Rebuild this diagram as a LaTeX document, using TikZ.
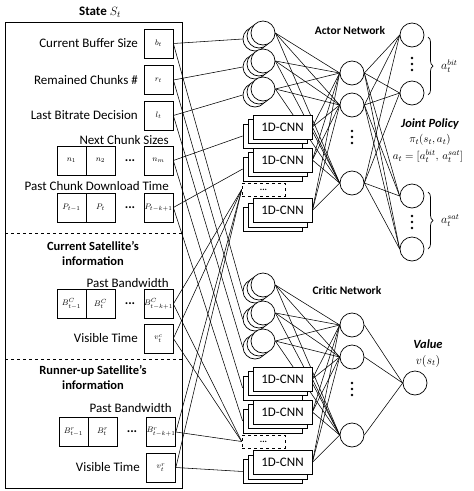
\documentclass[tikz,border=0pt]{standalone}
\usepackage{fontspec}
\setmainfont{Carlito}
\usetikzlibrary{backgrounds,decorations.pathreplacing}
\tikzset{
  lab/.style={font=\fontsize{13}{15}\selectfont, inner sep=0pt},
  hdr/.style={font=\fontsize{12.5}{15}\selectfont\bfseries, inner sep=0pt, align=center},
  sbox/.style={draw, minimum width=29pt, minimum height=29pt, inner sep=0pt, font=\fontsize{8.3}{9}\selectfont, line width=0.7pt},
  neu/.style={circle, draw, fill=white, minimum size=24pt, inner sep=0pt, line width=0.7pt},
  cnn/.style={draw, fill=white, minimum width=59pt, minimum height=24pt, inner sep=0pt, font=\fontsize{13}{15}\selectfont, line width=0.7pt},
  dbox/.style={draw, dashed, fill=white, minimum width=43pt, minimum height=13pt, inner sep=0pt, font=\fontsize{9}{10}\selectfont\bfseries, line width=0.6pt},
  wire/.style={line width=0.55pt},
  hdots/.style={font=\fontsize{13}{15}\selectfont\bfseries, inner sep=0pt},
  brc/.style={decorate, decoration={brace, amplitude=5pt}, line width=0.7pt},
  mlab/.style={font=\fontsize{12}{14}\selectfont, inner sep=0pt},
}
\begin{document}
\begin{tikzpicture}[x=1pt,y=-1pt]
\useasboundingbox (0,0) rectangle (474,491);

% ---------- State box ----------
\node[font=\fontsize{13}{15}\selectfont\bfseries, inner sep=0pt] (title) at (100,12) {State $S_t$};
\node[draw, line width=0.8pt, minimum width=177pt, minimum height=466pt, inner sep=0pt] (state) at (93.5,255) {};
\coordinate (d1l) at (5,233); \coordinate (d1r) at (182,233);
\coordinate (d2l) at (5,359); \coordinate (d2r) at (182,359);
\draw[dashed, line width=0.7pt] (d1l) -- (d1r);
\draw[dashed, line width=0.7pt] (d2l) -- (d2r);

\node[sbox] (b) at (158.5,43.5) {$b_t$};
\node[lab, anchor=east] (bl) at (138,43.5) {Current Buffer Size};
\node[sbox] (r) at (158.5,80) {$r_t$};
\node[lab, anchor=east] (rl) at (138,80) {Remained Chunks \#};
\node[sbox] (l) at (158.5,115.5) {$l_t$};
\node[lab, anchor=east] (ll) at (138,115.5) {Last Bitrate Decision};

\node[lab, anchor=east] (ncl) at (169,140) {Next Chunk Sizes};
\node[sbox] (n1) at (71.5,160.5) {$n_1$};
\node[sbox] (n2) at (100.5,160.5) {$n_2$};
\node[hdots] (nd) at (130,160.5) {...};
\node[sbox] (nm) at (158.5,160.5) {$n_m$};

\node[lab, anchor=east] (pcl) at (169,186) {Past Chunk Download Time};
\node[sbox] (P1) at (71.5,207.5) {$P_{t-1}$};
\node[sbox] (P2) at (100.5,207.5) {$P_t$};
\node[hdots] (pd) at (130,207.5) {...};
\node[sbox] (Pk) at (158.5,207.5) {$P_{t-k+1}$};

\node[hdr] (cs) at (93,253) {Current Satellite's\\information};
\node[lab, anchor=east] (pbc) at (169,283) {Past Bandwidth};
\node[sbox] (BC1) at (71.5,304) {$B^C_{t-1}$};
\node[sbox] (BC2) at (100.5,304) {$B^C_t$};
\node[hdots] (bcd) at (130,304) {...};
\node[sbox] (BCk) at (158.5,304) {$B^C_{t-k+1}$};
\node[sbox] (vc) at (158.5,338.5) {$v^c_t$};
\node[lab, anchor=east] (vcl) at (138,338.5) {Visible Time};

\node[hdr] (rs) at (93,377) {Runner-up Satellite's\\information};
\node[lab, anchor=east] (pbr) at (172,408) {Past Bandwidth};
\node[sbox] (Br1) at (73.5,432) {$B^r_{t-1}$};
\node[sbox] (Br2) at (102.5,432) {$B^r_t$};
\node[hdots] (brd) at (132,432) {...};
\node[sbox] (Brk) at (161,432) {$B^r_{t-k+1}$};
\node[sbox] (vr) at (161,467.5) {$v^r_t$};
\node[lab, anchor=east] (vrl) at (140,467.5) {Visible Time};

% ---------- Actor network ----------
\node[hdr, font=\fontsize{11.5}{14}\selectfont\bfseries] (actt) at (350,31) {Actor Network};
\foreach \n/\y in {a1/33,a2/61,a3/89,c1/285,c2/313,c3/341}{
  \node[neu] (\n bb) at (255,\y+6) {};
  \node[neu] (\n b) at (259,\y+3) {};
  \node[neu] (\n) at (263,\y) {};
}
\foreach \n/\y in {ac1/127,ac2/160,ac3/210.5,cc1/379,cc2/412,cc3/462.5}{
  \node[cnn] (\n bb) at (272.5,\y+9) {};
  \node[cnn] (\n b) at (277.5,\y+4.5) {};
  \node[cnn] (\n) at (282.5,\y) {1D-CNN};
}
\node[dbox] (ad) at (263.5,189.5) {...};
\node[dbox] (cd) at (263.5,441.5) {...};

\node[neu] (h1) at (352,73) {};
\node[neu] (h2) at (352,105) {};
\node[neu] (h3) at (352,183) {};
\foreach \yy in {131,137,143} \fill (352,\yy) circle (1.4pt);

\node[neu] (o1) at (412,35) {};
\node[neu] (o2) at (412,93) {};
\node[neu] (o3) at (412,196) {};
\node[neu] (o4) at (412,249) {};
\foreach \yy in {58,64,70} \fill (412,\yy) circle (1.4pt);
\foreach \yy in {216,222,228} \fill (412,\yy) circle (1.4pt);

\coordinate (bt1) at (428,37); \coordinate (bt2) at (428,95);
\coordinate (st1) at (428,192); \coordinate (st2) at (428,249);
\draw[brc] (bt1) -- (bt2);
\draw[brc] (st1) -- (st2);
\node[mlab, anchor=west] (abit) at (441,66) {$a_t^{bit}$};
\node[mlab, anchor=west] (asat) at (441,220.5) {$a_t^{sat}$};

\node[font=\fontsize{12.5}{15}\selectfont\bfseries\itshape, inner sep=0pt] (jp) at (430,124) {Joint Policy};
\node[font=\fontsize{11}{13}\selectfont, inner sep=0pt] (pi) at (430,140) {$\pi_t(s_t,a_t)$};
\node[font=\fontsize{11}{13}\selectfont, inner sep=0pt] (at) at (428,156) {$a_t=[a_t^{bit},\,a_t^{sat}]$};

% ---------- Critic network ----------
\node[hdr, font=\fontsize{11.5}{14}\selectfont\bfseries] (crt) at (347,290) {Critic Network};
\node[neu] (g1) at (352,325) {};
\node[neu] (g2) at (352,357) {};
\node[neu] (g3) at (352,435) {};
\foreach \yy in {383,389,395} \fill (352,\yy) circle (1.4pt);
\node[neu] (V) at (415,383) {};
\node[font=\fontsize{12.5}{15}\selectfont\bfseries\itshape, inner sep=0pt] (valt) at (428,344) {Value};
\node[mlab] (vs) at (428,361) {$v(s_t)$};

% ---------- Wires ----------
\begin{pgfonlayer}{background}
\draw[wire] (b.east) -- (a1bb.west);
\draw[wire] (r.east) -- (a2bb.west);
\draw[wire] (l.east) -- (a3bb.west);
\draw[wire] (nm.east) -- (ac1bb.west);
\draw[wire] (Pk.east) -- (ac2bb.west);
\draw[wire] (BCk.east) -- (ad.west);
\draw[wire] (vc.east) -- (ad.west);
\draw[wire] (Brk.east) -- (ad.west);
\draw[wire] (vr.east) -- (ad.west);

\draw[wire] (b.east) -- (c1bb.west);
\draw[wire] (r.east) -- (c2bb.west);
\draw[wire] (l.east) -- (c3bb.west);
\draw[wire] (nm.east) -- (cc1bb.west);
\draw[wire] (Pk.east) -- (cc2bb.west);
\draw[wire] (BCk.east) -- (cd.west);
\draw[wire] (vc.east) -- (cd.west);
\draw[wire] (Brk.east) -- (cd.west);
\draw[wire] (vr.east) -- (cc3bb.west);

\foreach \s in {a1,a2,a3,ac1,ac2,ac3}
  \foreach \h in {h1,h2,h3}
    \draw[wire] (\s.east) -- (\h.west);
\foreach \h in {h1,h2,h3}
  \foreach \o in {o1,o2,o3,o4}
    \draw[wire] (\h.east) -- (\o.west);
\foreach \s in {c1,c2,c3,cc1,cc2,cc3}
  \foreach \h in {g1,g2,g3}
    \draw[wire] (\s.east) -- (\h.west);
\foreach \h in {g1,g2,g3}
  \draw[wire] (\h.east) -- (V.west);
\end{pgfonlayer}
\end{tikzpicture}
\end{document}
